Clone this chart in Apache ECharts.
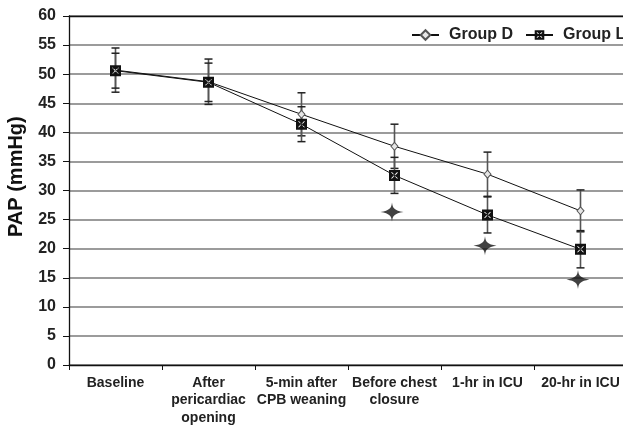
<!DOCTYPE html>
<html><head><meta charset="utf-8">
<script src="https://cdn.jsdelivr.net/npm/echarts@6/dist/echarts.min.js"></script>
<style>html,body{margin:0;padding:0;background:#fff}#c{width:623px;height:425px}</style>
</head><body><div id="c"></div>
<script>
const categories = ['Baseline', 'After\npericardiac\nopening', '5-min after\nCPB weaning', 'Before chest\nclosure', '1-hr in ICU', '20-hr in ICU'];
const groupD = [50.7, 48.7, 43.1, 37.6, 32.8, 26.5];
const groupDsd = [3.8, 3.9, 3.7, 3.8, 3.8, 3.6];
const groupL = [50.6, 48.6, 41.4, 32.6, 25.8, 19.9];
const groupLsd = [3.0, 3.3, 3.0, 3.1, 3.1, 3.2];
const sigMarks = [null, null, null, 26.3, 20.5, 14.7];
const yTicks = [0, 60, 5];

const chart = echarts.init(document.getElementById('c'), null, {renderer: 'canvas'});

function errData(m, sd) { return m.map((v, i) => [i, v - sd[i], v + sd[i]]); }
function errSeries(name, m, sd) {
  return {
    type: 'custom', name: name + ' err', z: 2, silent: true,
    data: errData(m, sd),
    renderItem: function (params, api) {
      const x = api.value(0);
      const lo = api.coord([x, api.value(1)]);
      const hi = api.coord([x, api.value(2)]);
      const hw = 4;
      const st = {stroke: '#222', lineWidth: 1.5};
      return {type: 'group', children: [
        {type: 'line', shape: {x1: lo[0], y1: lo[1], x2: hi[0], y2: hi[1]}, style: {stroke: '#555', lineWidth: 1.6}},
        {type: 'line', shape: {x1: lo[0] - hw, y1: lo[1], x2: lo[0] + hw, y2: lo[1]}, style: st},
        {type: 'line', shape: {x1: hi[0] - hw, y1: hi[1], x2: hi[0] + hw, y2: hi[1]}, style: st}
      ]};
    }
  };
}

const lSymbol = 'path://M0,0 L10,0 L10,10 L0,10 Z M2,2.5 L4.3,5 L2,7.5 L2.5,8 L5,5.7 L7.5,8 L8,7.5 L5.7,5 L8,2.5 L7.5,2 L5,4.3 L2.5,2 Z';
const starSymbol = 'path://M10,0 C10.6,5.5 12,7.5 20,9 C12,10.5 10.6,12.5 10,18 C9.4,12.5 8,10.5 0,9 C8,7.5 9.4,5.5 10,0 Z';

chart.setOption({
  animation: false,
  textStyle: {fontFamily: 'Liberation Sans, Arial, sans-serif'},
  grid: {left: 69, top: 16, right: -4, bottom: 60, containLabel: false, outerBoundsMode: 'none'},
  legend: {
    left: 411, top: 27, width: 400, padding: 0, orient: 'horizontal', itemGap: 12, itemWidth: 27, itemHeight: 12,
    textStyle: {fontSize: 16, fontWeight: 'bold', color: '#222', padding: [0, 0, 0, 5], overflow: 'none'},
    data: ['Group D', 'Group L']
  },
  xAxis: [{
    type: 'category', data: categories, boundaryGap: true,
    axisLine: {lineStyle: {color: '#111', width: 1.3}},
    axisTick: {show: true, length: 5, lineStyle: {color: '#111'}, interval: 0},
    axisLabel: {interval: 0, fontSize: 14, fontWeight: 'bold', color: '#222', lineHeight: 17.5, margin: 9, hideOverlap: false}
  }, {
    type: 'category', data: categories, position: 'top',
    axisLine: {lineStyle: {color: '#111', width: 1.3}},
    axisTick: {show: false}, axisLabel: {show: false}
  }],
  yAxis: {
    type: 'value', min: yTicks[0], max: yTicks[1], interval: yTicks[2],
    axisLine: {show: true, lineStyle: {color: '#111', width: 1.3}},
    axisTick: {show: true, length: 6, lineStyle: {color: '#111'}},
    axisLabel: {fontSize: 16, fontWeight: 'bold', color: '#222', margin: 13},
    splitLine: {lineStyle: {color: '#7a7a7a', width: 1.5}}
  },
  graphic: [{
    type: 'text',
    rotation: Math.PI / 2,
    style: {text: 'PAP (mmHg)', font: 'bold 20px "Liberation Sans", Arial, sans-serif', fill: '#111'},
    x: 6, y: 237
  }],
  series: [
    errSeries('Group D', groupD, groupDsd),
    errSeries('Group L', groupL, groupLsd),
    {
      name: 'Group D', type: 'line', data: groupD, z: 3,
      symbol: 'diamond', symbolSize: [7, 8], showAllSymbol: true,
      lineStyle: {color: '#111', width: 1},
      itemStyle: {color: '#e6e6e6', borderColor: '#555', borderWidth: 1}
    },
    {
      name: 'Group L', type: 'line', data: groupL, z: 4,
      symbol: lSymbol, symbolSize: 11, showAllSymbol: true,
      lineStyle: {color: '#111', width: 1},
      itemStyle: {color: '#111', borderWidth: 0}
    },
    {
      name: 'sig', type: 'scatter', data: sigMarks, z: 5,
      symbol: starSymbol, symbolSize: [23, 19], symbolOffset: [-2.5, 0],
      itemStyle: {color: '#111'}
    }
  ]
});
</script></body></html>
